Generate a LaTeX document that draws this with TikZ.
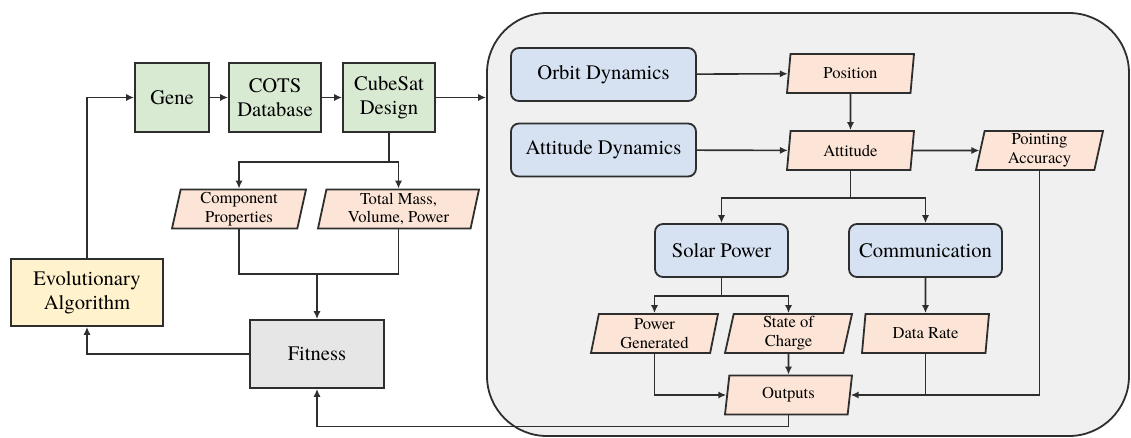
\documentclass[tikz,border=0pt]{standalone}
\usepackage{fontspec}
\setmainfont{texgyretermes}[Extension=.otf,UprightFont=*-regular,BoldFont=*-bold,ItalicFont=*-italic,BoldItalicFont=*-bolditalic]
\usetikzlibrary{shapes.geometric,arrows.meta}
\definecolor{edgegray}{HTML}{2E2E2E}
\definecolor{genegreen}{HTML}{D9EAD3}
\definecolor{evoyellow}{HTML}{FFF2CC}
\definecolor{fitgray}{HTML}{E6E6E6}
\definecolor{simgray}{HTML}{F0F0F0}
\definecolor{dynblue}{HTML}{D6E2F2}
\definecolor{datapink}{HTML}{FCE4D6}
\begin{document}
\begin{tikzpicture}[x=0.5pt,y=-0.5pt,
  bigfont/.style={font=\rmfamily\fontsize{10.3}{12}\selectfont},
  smallfont/.style={font=\rmfamily\fontsize{8.3}{9.4}\selectfont},
  greenbox/.style={draw=edgegray,line width=0.9pt,fill=genegreen,minimum width=46pt,minimum height=34.5pt,align=center,inner sep=1pt,bigfont},
  dynbox/.style={draw=edgegray,line width=0.9pt,fill=dynblue,rounded corners=4pt,minimum width=92.5pt,minimum height=26.5pt,align=center,inner sep=1pt,bigfont},
  para/.style={trapezium,trapezium left angle=77,trapezium right angle=103,trapezium stretches body,draw=edgegray,line width=0.9pt,fill=datapink,minimum width=63.5pt,minimum height=19.5pt,align=center,inner sep=1pt,smallfont},
  simbox/.style={draw=edgegray,line width=0.9pt,fill=simgray,rounded corners=30pt,minimum width=321pt,minimum height=211.5pt},
  conn/.style={draw=edgegray,line width=0.8pt},
  arr/.style={conn,-{Latex[length=4pt,width=3.6pt]}}]
\useasboundingbox (0,0) rectangle (1131,438);
\node[simbox] (sim) at (808,224.5) {};
\node[greenbox,minimum width=37pt] (gene) at (172,97.5) {Gene};
\node[greenbox] (cots) at (275,97.5) {COTS\\Database};
\node[greenbox] (cube) at (389,97.5) {CubeSat\\Design};
\node[greenbox,fill=evoyellow,minimum width=76pt,minimum height=33.5pt] (evo) at (87,292.5) {Evolutionary\\Algorithm};
\node[greenbox,fill=fitgray,minimum width=67pt,minimum height=34pt] (fit) at (317,354) {Fitness};
\node[para,minimum width=67pt] (cp) at (239,209) {Component\\Properties};
\node[para,minimum width=80.5pt] (tm) at (398.5,209) {Total Mass,\\Volume, Power};
\coordinate (merge) at (317,274);
\node[dynbox] (orbit) at (603.5,74.5) {Orbit Dynamics};
\node[dynbox] (attd) at (603.5,150) {Attitude Dynamics};
\node[para] (pos) at (850.5,73.5) {Position};
\node[para] (att) at (850.5,150.5) {Attitude};
\node[para] (point) at (1039.5,150.5) {Pointing\\Accuracy};
\node[dynbox,minimum width=66.5pt] (solar) at (721.5,250.5) {Solar Power};
\node[dynbox,minimum width=76.5pt] (comm) at (925.5,250.5) {Communication};
\node[para] (pg) at (654.5,333.5) {Power\\Generated};
\node[para] (soc) at (788.5,333.5) {State of\\Charge};
\node[para] (dr) at (925.5,333.5) {Data Rate};
\node[para] (out) at (788.5,395) {Outputs};
\draw[arr] (gene) -- (cots);
\draw[arr] (cots) -- (cube);
\draw[arr] (cube.east) -- (cube.east -| sim.west);
\draw[arr] (evo.north) |- (gene.west);
\draw[arr] (cube.south) -- ++(0,29) -| (cp.north);
\draw[arr] (cube.south) -- ++(0,29) -| (tm.north);
\draw[conn] (cp.south) |- (merge) -| (tm.south);
\draw[arr,line width=1pt] (merge) -- (fit.north);
\draw[arr] (fit.west) -| (evo.south);
\draw[arr] (out.south) -- ++(0,11) -| (fit.south);
\draw[arr] (orbit) -- (pos);
\draw[arr] (attd) -- (att);
\draw[arr] (pos) -- (att);
\draw[arr] (att) -- (point);
\draw[arr] (att.south) -- ++(0,27) -| (solar.north);
\draw[arr] (att.south) -- ++(0,27) -| (comm.north);
\draw[arr] (solar.south) -- ++(0,18) -| (pg.north);
\draw[arr] (solar.south) -- ++(0,18) -| (soc.north);
\draw[arr] (comm) -- (dr);
\draw[arr] (soc) -- (out);
\draw[arr] (pg.south) |- (out.west);
\draw[arr] (point.south) |- (out.east);
\draw[conn] (dr.south) -- (dr.south |- out.east);
\end{tikzpicture}
\end{document}
